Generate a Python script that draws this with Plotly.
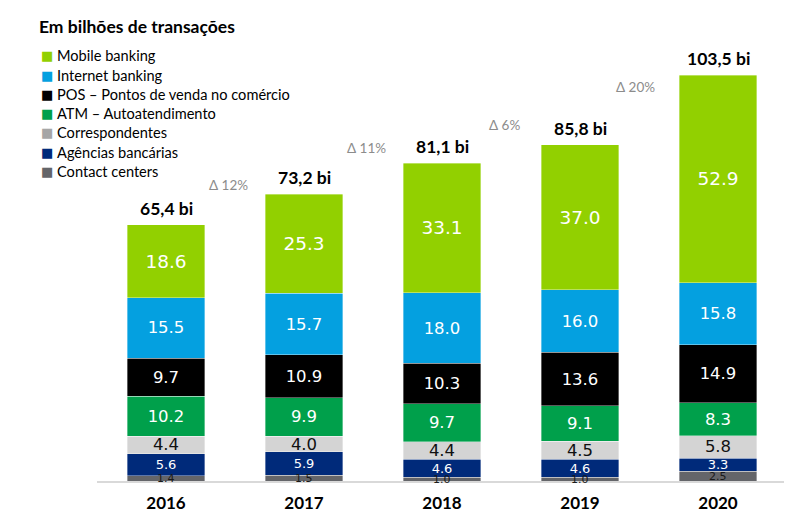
import plotly.graph_objects as go

years = ["2016", "2017", "2018", "2019", "2020"]
contact_centers = [1.4, 1.5, 1.0, 1.0, 2.5]
agencias = [5.6, 5.9, 4.6, 4.6, 3.3]
correspondentes = [4.4, 4.0, 4.4, 4.5, 5.8]
atm = [10.2, 9.9, 9.7, 9.1, 8.3]
pos = [9.7, 10.9, 10.3, 13.6, 14.9]
internet = [15.5, 15.7, 18.0, 16.0, 15.8]
mobile = [18.6, 25.3, 33.1, 37.0, 52.9]
totals_text = ["65,4 bi", "73,2 bi", "81,1 bi", "85,8 bi", "103,5 bi"]
deltas = ["Δ 12%", "Δ 11%", "Δ 6%", "Δ 20%"]
delta_y = [75.5, 84.9, 90.8, 100.5]
delta_x = [0.45, 0.45, 0.45, 0.4]

series = [
    ("Contact centers", contact_centers, "#646569", "#646569", "#1a1a1a", 11),
    ("Agências bancárias", agencias, "#002A7A", "#002A7A", "white", 13),
    ("Correspondentes", correspondentes, "#D4D4D4", "#A6A6A6", "#111111", 16.5),
    ("ATM – Autoatendimento", atm, "#00A04B", "#00A04B", "white", 16.5),
    ("POS – Pontos de venda no comércio", pos, "#000000", "#000000", "white", 16.5),
    ("Internet banking", internet, "#04A0E0", "#04A0E0", "white", 16.5),
    ("Mobile banking", mobile, "#92D000", "#92D000", "white", 18.5),
]

OFF = 8  # page body margin
W, H = 792, 521
L, R, T, B = 97 - OFF, 13, 20 - OFF, 48
PW, PH = W - L - R, H - T - B


def px(x):
    return (x - OFF - L) / PW


def py(y):
    return (H - B - (y - OFF)) / PH


fig = go.Figure()
for idx, (name, vals, color, lcolor, tcol, tsize) in enumerate(series):
    fig.add_trace(go.Bar(
        x=years, y=vals, name=name,
        marker=dict(color=color, line=dict(color="rgba(255,255,255,0.6)", width=0.6)),
        text=None if idx == 0 else [f"{v:.1f}" for v in vals],
        textposition="inside", insidetextanchor="middle",
        constraintext="none", textangle=0,
        textfont=dict(family="DejaVu Sans", size=tsize, color=tcol),
        hoverinfo="skip", showlegend=False,
    ))

totals = [sum(s[1][i] for s in series) for i in range(len(years))]
annotations = []
# labels of the thin bottom segment (overflowing, as in the reference)
for i, v in enumerate(contact_centers):
    annotations.append(dict(
        x=i, y=v / 2, xref="x", yref="y", text=f"{v:.1f}", showarrow=False,
        yanchor="middle", font=dict(family="DejaVu Sans", size=11, color="#1a1a1a"),
    ))
for i, t in enumerate(totals_text):
    annotations.append(dict(
        x=i, y=totals[i], xref="x", yref="y", text=t, showarrow=False,
        yanchor="bottom", yshift=4,
        font=dict(family="Lato", size=17.5, color="black", weight="bold"),
    ))
for i, d in enumerate(deltas):
    annotations.append(dict(
        x=i + delta_x[i], y=delta_y[i], xref="x", yref="y", text=d, showarrow=False,
        yanchor="middle",
        font=dict(family="Lato", size=13.5, color="#8C8C8C"),
    ))
annotations.append(dict(
    x=px(37), y=py(27), xref="paper", yref="paper",
    text="<b>Em bilhões de transações</b>",
    showarrow=False, xanchor="left", yanchor="middle",
    font=dict(family="Lato", size=17.5, color="black"),
))
# legend built as annotations (top series first)
for k, (name, vals, color, lcolor, tcol, tsize) in enumerate(reversed(series)):
    yrow = 56 + k * 19.2
    annotations.append(dict(
        x=px(39), y=py(yrow), xref="paper", yref="paper",
        text=f"<span style='color:{lcolor}'>■</span>",
        showarrow=False, xanchor="left", yanchor="middle",
        font=dict(family="DejaVu Sans", size=13),
    ))
    annotations.append(dict(
        x=px(55), y=py(yrow), xref="paper", yref="paper", text=name,
        showarrow=False, xanchor="left", yanchor="middle",
        font=dict(family="Lato", size=14.6, color="black"),
    ))

fig.update_layout(
    barmode="stack",
    bargap=0.44,
    width=W, height=H,
    margin=dict(l=L, r=R, t=T, b=B, autoexpand=False),
    plot_bgcolor="white", paper_bgcolor="white",
    showlegend=False,
    annotations=annotations,
    xaxis=dict(
        type="category",
        showline=True, linecolor="#D9D9D9", linewidth=1.5,
        tickfont=dict(family="Lato", size=17, color="black", weight="bold"),
        ticks="", showgrid=False, ticklabelstandoff=6,
    ),
    yaxis=dict(range=[0, 117.6], visible=False, showgrid=False),
)

fig.write_html("out.html")
